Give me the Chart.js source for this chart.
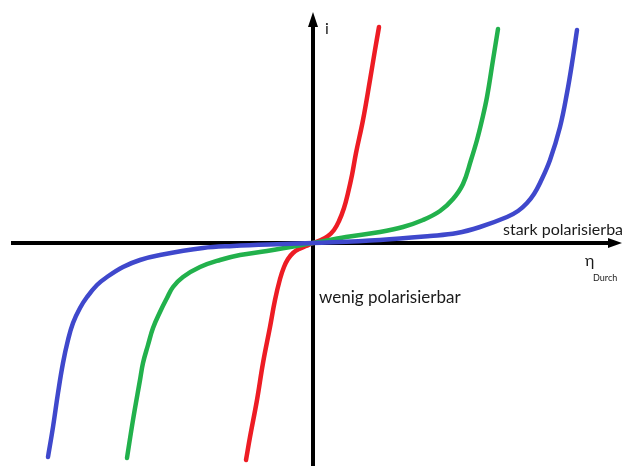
<!DOCTYPE html>
<html>
<head>
<meta charset="utf-8">
<script src="https://cdn.jsdelivr.net/npm/chart.js@4"></script>
<style>
  html, body { margin: 0; padding: 0; background: #fff; }
  #box { width: 625px; height: 466px; position: relative; }
</style>
</head>
<body>
<div id="box"><canvas id="curves"></canvas></div>
<script>
// eta (Durchtrittsueberspannung) and i
var redEta   = [-6.7, -6.3, -5.6, -5.0, -4.3, -3.8, -3.3, -2.9, -2.5, -2.0, -1.4, -0.7, 0, 0.8, 1.5, 2.1, 2.6, 3.1, 3.5, 3.9, 4.3, 5.0, 5.7, 6.2, 6.6];
var redI     = [-21.7, -19.4, -15.7, -12.0, -8.4, -5.7, -3.6, -2.4, -1.6, -1.0, -0.6, -0.3, 0, 0.3, 0.7, 1.3, 2.2, 3.5, 5.0, 6.8, 9.0, 12.3, 16.3, 19.3, 21.6];

var greenEta = [-18.6, -18.0, -17.3, -17.0, -16.5, -16.0, -15.3, -14.6, -14.0, -13.0, -11.3, -9.3, -7.3, -4.6, 0, 3.3, 6.7, 9.0, 11.0, 12.7, 14.0, 15.0, 15.8, 16.4, 16.9, 17.4, 18.0, 18.5];
var greenI   = [-21.5, -17.7, -13.7, -12.0, -10.2, -8.5, -6.9, -5.5, -4.4, -3.4, -2.4, -1.7, -1.2, -0.8, 0, 0.6, 1.1, 1.6, 2.3, 3.2, 4.4, 5.9, 8.3, 10.3, 12.3, 14.6, 18.3, 21.4];

var blueEta  = [-26.5, -26.0, -25.5, -25.0, -24.5, -24.0, -23.3, -22.6, -21.6, -20.6, -19.0, -17.3, -15.3, -11.0, -8.0, -3.0, 0, 6.7, 11.7, 14.4, 16.7, 19.4, 20.5, 21.4, 22.1, 22.7, 23.7, 24.7, 25.4, 26.0, 26.4];
var blueI    = [-21.4, -18.4, -15.0, -12.0, -9.7, -8.0, -6.5, -5.4, -4.2, -3.4, -2.4, -1.7, -1.2, -0.5, -0.3, -0.1, 0, 0.3, 0.7, 1.0, 1.6, 2.6, 3.2, 4.0, 4.9, 6.0, 8.3, 11.6, 15.0, 18.6, 21.3];

// axis extents in data units
var axisEta = [-30.2, 30.9];
var axisI   = [-22.4, 23.1];

const toPoints = (xs, ys) => xs.map((x, k) => ({ x: x, y: ys[k] }));

const curve = (pts, color) => ({
    data: pts,
    showLine: true,
    borderColor: color,
    borderWidth: 4.5,
    borderCapStyle: 'round',
    borderJoinStyle: 'round',
    pointRadius: 0,
    tension: 0.4,
    fill: false
});

/* black axes with arrow heads, drawn under the curves */
const axesPlugin = {
    id: 'axes',
    beforeDatasetsDraw(chart) {
        let c = chart.ctx;
        let sx = chart.scales.x, sy = chart.scales.y;
        let x0 = sx.getPixelForValue(0), y0 = sy.getPixelForValue(0);
        let xl = sx.getPixelForValue(axisEta[0]), xr = sx.getPixelForValue(axisEta[1]);
        let yt = sy.getPixelForValue(axisI[1]), yb = sy.getPixelForValue(axisI[0]);
        c.save();
        c.strokeStyle = '#000';
        c.fillStyle = '#000';
        c.lineWidth = 4;
        c.beginPath();
        c.moveTo(xl, y0); c.lineTo(xr - 12, y0);
        c.moveTo(x0, yb); c.lineTo(x0, yt + 12);
        c.stroke();
        c.beginPath();
        c.moveTo(xr, y0); c.lineTo(xr - 14, y0 - 5); c.lineTo(xr - 14, y0 + 5); c.closePath();
        c.moveTo(x0, yt); c.lineTo(x0 - 5, yt + 15); c.lineTo(x0 + 5, yt + 15); c.closePath();
        c.fill();
        c.restore();
    }
};

const labelsPlugin = {
    id: 'labels',
    afterDatasetsDraw(chart) {
        let c = chart.ctx;
        let sx = chart.scales.x, sy = chart.scales.y;
        const put = (txt, eta, i, font) => {
            c.font = font;
            c.fillText(txt, sx.getPixelForValue(eta), sy.getPixelForValue(i));
        };
        c.save();
        c.fillStyle = '#1a1a1a';
        c.textBaseline = 'alphabetic';
        c.textAlign = 'left';
        put('i', 1.2, 20.9, '16px Lato');
        put('stark polarisierba', 19.0, 0.8, '16px Lato');
        put('wenig polarisierbar', 0.6, -6.0, '17px Lato');
        put('η', 27.2, -2.3, '16px Lato');
        put('Durch', 28.0, -3.8, '9px Lato');
        c.restore();
    }
};

var ctx = document.getElementById('curves').getContext('2d');

new Chart(ctx, {
    type: 'scatter',
    data: {
        datasets: [
            curve(toPoints(blueEta, blueI), '#3f48cc'),
            curve(toPoints(greenEta, greenI), '#22b14c'),
            curve(toPoints(redEta, redI), '#ed1c24')
        ]
    },
    options: {
        responsive: true,
        maintainAspectRatio: false,
        animation: false,
        layout: { padding: 0 },
        plugins: { legend: { display: false }, tooltip: { enabled: false } },
        scales: {
            x: { type: 'linear', display: false, min: -31.3, max: 31.2 },
            y: { type: 'linear', display: false, min: -22.3, max: 24.3 }
        }
    },
    plugins: [axesPlugin, labelsPlugin]
});
</script>
</body>
</html>
